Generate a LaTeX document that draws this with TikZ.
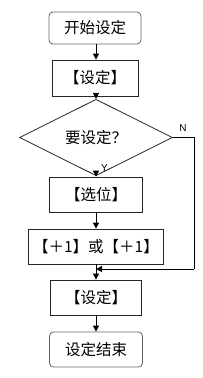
\documentclass[tikz,border=0pt]{standalone}
\usepackage{fontspec}
\setmainfont{Liberation Sans}
\newfontfamily\cjk{Noto Sans CJK SC}
\usetikzlibrary{arrows.meta,shapes.geometric}
\begin{document}
\begin{tikzpicture}[x=1pt,y=-1pt,
  box/.style={draw=black!85,line width=0.8pt,inner sep=0pt,font=\cjk\fontsize{15.5}{17}\selectfont},
  term/.style={box,draw=black!60,rounded corners=4pt},
  dec/.style={diamond,draw=black!85,line width=0.8pt,inner sep=0pt,font=\cjk\fontsize{15.5}{17}\selectfont},
  conn/.style={line width=0.8pt,-{Triangle[length=6pt,width=6pt]}},
  lbl/.style={font=\fontsize{10}{12}\selectfont,inner sep=0pt}]
\useasboundingbox (0,0) rectangle (202,378);
\node[term,minimum width=92,minimum height=32] (start) at (95,28) {开始设定};
\node[box,minimum width=86,minimum height=36] (set1) at (95,78) {【设定】};
\node[dec,minimum width=153,minimum height=49] (q) at (96,137.5) {要设定？};
\node[box,minimum width=93,minimum height=35] (sel) at (96,194.5) {【选位】};
\node[box,minimum width=135,minimum height=35] (inc) at (96,246.5) {【＋1】或【＋1】};
\node[box,minimum width=91,minimum height=35] (set2) at (96,297.5) {【设定】};
\node[term,minimum width=93,minimum height=35] (end) at (96,349.5) {设定结束};
\coordinate (nr) at (194,137.5);
\coordinate (nb) at (194,269);
\coordinate (mg) at (96,269);
\draw[conn] (start.south -| 96,0) -- (set1.north -| 96,0);
\draw[conn] (set1.south -| 96,0) -- (q.north);
\draw[conn] (q.south) -- (sel.north);
\draw[conn] (sel.south) -- (inc.north);
\draw[conn] (inc.south) -- (set2.north);
\draw[line width=0.8pt] (q.east) -- (nr) -- (nb);
\draw[conn] (nb) -- (mg);
\node[lbl,anchor=west] (ny) at (101,168) {Y};
\node[lbl] (nn) at (183,128) {N};
\draw[conn] (set2.south) -- (end.north);
\end{tikzpicture}
\end{document}
